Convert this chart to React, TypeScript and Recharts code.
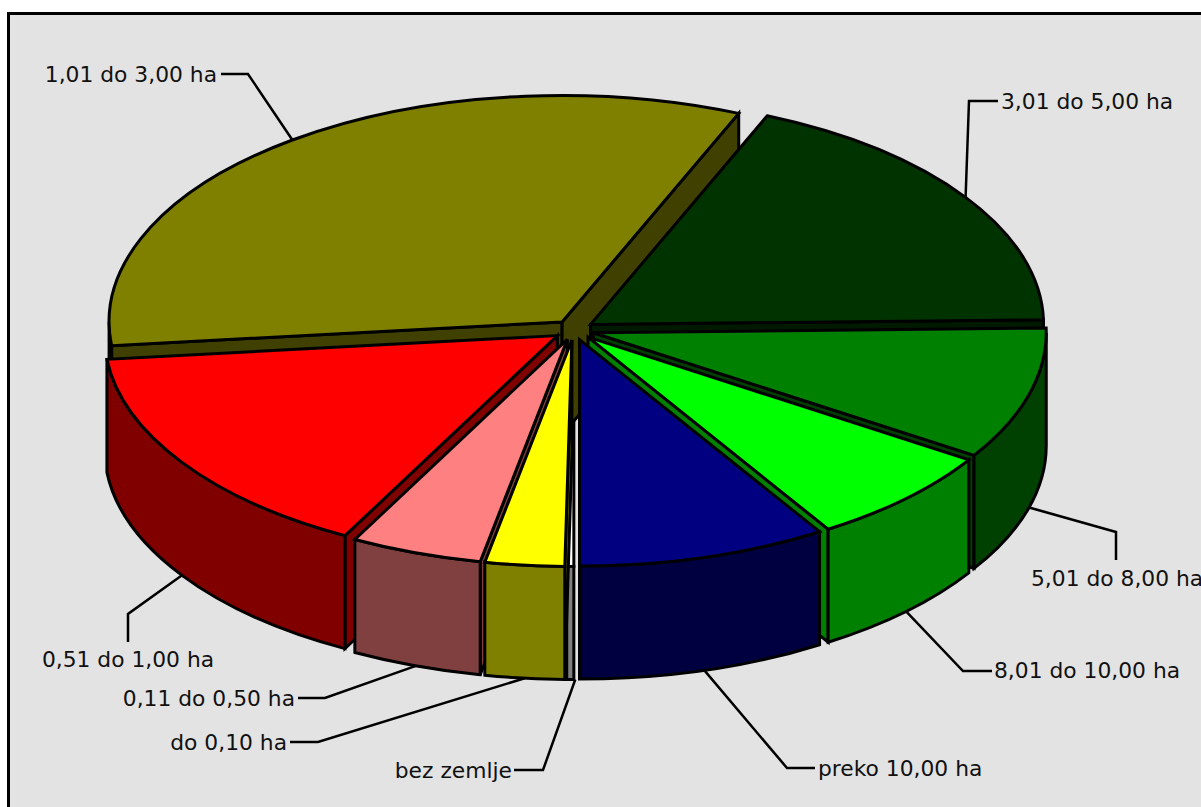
import { PieChart, Pie } from 'recharts';

const categories = [
  'bez zemlje',
  'do 0,10 ha',
  '0,11 do 0,50 ha',
  '0,51 do 1,00 ha',
  '1,01 do 3,00 ha',
  '3,01 do 5,00 ha',
  '5,01 do 8,00 ha',
  '8,01 do 10,00 ha',
  'preko 10,00 ha',
];
const shares = [0.25, 2.83, 4.69, 15.56, 33.05, 18.3, 9.44, 7.0, 8.89];
const colors = ['#ffffff', '#ffff00', '#ff8080', '#ff0000', '#808000', '#003300', '#008000', '#00ff00', '#000080'];
const wallColors = ['#808080', '#808000', '#804040', '#800000', '#404000', '#001a00', '#004000', '#008000', '#000040'];

// back slices first, so the front ones cover their cut faces
const paintOrder = [
  'bez zemlje',
  '1,01 do 3,00 ha',
  '3,01 do 5,00 ha',
  '5,01 do 8,00 ha',
  '8,01 do 10,00 ha',
  'preko 10,00 ha',
  '0,51 do 1,00 ha',
  '0,11 do 0,50 ha',
  'do 0,10 ha',
];

const data = categories.map((name, i) => ({ name, value: shares[i], fill: colors[i], wall: wallColors[i] }));

// leader elbow, end of the leader, text anchor point
const labelPlaces: Record<string, { elbow: number[]; end: number[]; text: number[]; anchor: string; nudge?: number }> = {
  '1,01 do 3,00 ha': { elbow: [248, 74], end: [221, 74], text: [217, 74], anchor: 'end' },
  '3,01 do 5,00 ha': { elbow: [969, 101], end: [998, 101], text: [1001, 101], anchor: 'start' },
  '5,01 do 8,00 ha': { elbow: [1116, 532], end: [1116, 560], text: [1031, 578], anchor: 'start' },
  '8,01 do 10,00 ha': { elbow: [963, 671], end: [992, 671], text: [994, 670], anchor: 'start' },
  'preko 10,00 ha': { elbow: [787, 768], end: [815, 768], text: [818, 768], anchor: 'start' },
  'bez zemlje': { elbow: [543, 770], end: [514, 770], text: [512, 770], anchor: 'end', nudge: 5 },
  'do 0,10 ha': { elbow: [318, 742], end: [290, 742], text: [287, 742], anchor: 'end' },
  '0,11 do 0,50 ha': { elbow: [325, 698], end: [298, 698], text: [295, 698], anchor: 'end' },
  '0,51 do 1,00 ha': { elbow: [128, 614], end: [128, 642], text: [128, 659], anchor: 'middle' },
};

const SQUASH = 0.5;
const DEPTH = 113;
const EXPLODE = 20;
const RAD = Math.PI / 180;

const apexOf = (cx: number, cy: number, mid: number) => [
  cx + EXPLODE * Math.cos(mid * RAD),
  cy - EXPLODE * SQUASH * Math.sin(mid * RAD),
];

const rimPoint = (apex: number[], r: number, a: number) => [
  apex[0] + r * Math.cos(a * RAD),
  apex[1] - r * SQUASH * Math.sin(a * RAD),
];

function Slice3D(props: any) {
  const { cx, cy, outerRadius: r, startAngle: s, endAngle: e, fill, payload } = props;
  const mid = (s + e) / 2;
  const apex = apexOf(cx, cy, mid);
  const p0 = rimPoint(apex, r, s);
  const p1 = rimPoint(apex, r, e);
  const pm = rimPoint(apex, r, mid);
  const wall = payload?.wall ?? props.wall;
  const common = { stroke: '#000', strokeWidth: 3, strokeLinejoin: 'miter' as const };

  // cut faces, only those turned to the viewer
  const faces = [p0, p1]
    .filter((p) => {
      const ex = p[0] - apex[0];
      const ey = p[1] - apex[1];
      const inside = ex * (pm[1] - apex[1]) - ey * (pm[0] - apex[0]);
      return ex * inside < 0;
    })
    .map((p) => `M${apex[0]},${apex[1]} L${p[0]},${p[1]} L${p[0]},${p[1] + DEPTH} L${apex[0]},${apex[1] + DEPTH} Z`);

  // outer wall is the part of the rim in the lower half
  const walls: string[] = [];
  for (let k = -2; k <= 1; k++) {
    const hi = Math.min(s, 360 * k);
    const lo = Math.max(e, 360 * k - 180);
    if (hi > lo) {
      const a = rimPoint(apex, r, hi);
      const b = rimPoint(apex, r, lo);
      walls.push(
        `M${a[0]},${a[1]} A${r},${r * SQUASH} 0 0 1 ${b[0]},${b[1]} L${b[0]},${b[1] + DEPTH} A${r},${r * SQUASH} 0 0 0 ${a[0]},${a[1] + DEPTH} Z`
      );
    }
  }

  const large = Math.abs(s - e) > 180 ? 1 : 0;
  return (
    <g>
      {faces.map((d, i) => <path key={i} d={d} fill={wall} {...common} />)}
      {walls.map((d, i) => <path key={i} d={d} fill={wall} {...common} />)}
      <path
        d={`M${apex[0]},${apex[1]} L${p0[0]},${p0[1]} A${r},${r * SQUASH} 0 ${large} 1 ${p1[0]},${p1[1]} Z`}
        fill={fill}
        {...common}
      />
    </g>
  );
}

function SliceLabel(props: any) {
  const { cx, cy, outerRadius: r, midAngle, name, payload } = props;
  const label = name ?? payload?.name;
  const place = labelPlaces[label];
  if (!place) return null;
  const apex = apexOf(cx, cy, midAngle);
  const rim = rimPoint(apex, r, midAngle);
  const startY = Math.sin(midAngle * RAD) < 0 ? rim[1] + DEPTH : rim[1];
  return (
    <g>
      <polyline
        points={`${rim[0] + (place.nudge ?? 0)},${startY} ${place.elbow.join(',')} ${place.end.join(',')}`}
        fill="none"
        stroke="#000"
        strokeWidth={2.5}
      />
      <text
        x={place.text[0]}
        y={place.text[1]}
        textAnchor={place.anchor as any}
        dominantBaseline="central"
        fontFamily="'DejaVu Sans', sans-serif"
        fontSize={21.8}
        fill="#111"
      >
        {label}
      </text>
    </g>
  );
}

const pieProps = {
  data,
  dataKey: 'value',
  nameKey: 'name',
  cx: 574,
  cy: 330,
  innerRadius: 0,
  outerRadius: 453,
  startAngle: -90,
  endAngle: -450,
  isAnimationActive: false,
  labelLine: false,
};

export default function App() {
  return (
    <div style={{ position: 'absolute', left: 0, top: 0, width: 1201, height: 807, overflow: 'hidden', background: '#fff' }}>
      <div
        style={{
          position: 'absolute',
          left: 7,
          top: 12,
          width: 1300,
          height: 900,
          background: '#e3e3e3',
          border: '3px solid #000',
          boxSizing: 'border-box',
        }}
      />
      <div style={{ position: 'absolute', left: 0, top: 0 }}>
        <PieChart width={1201} height={807} margin={{ top: 0, right: 0, bottom: 0, left: 0 }}>
          {paintOrder.map((layer) => (
            <Pie
              key={layer}
              {...pieProps}
              shape={(p: any) => ((p.name ?? p.payload?.name) === layer ? <Slice3D {...p} /> : <g />)}
            />
          ))}
          <Pie key="labels" {...pieProps} shape={() => <g />} label={SliceLabel} />
        </PieChart>
      </div>
    </div>
  );
}
